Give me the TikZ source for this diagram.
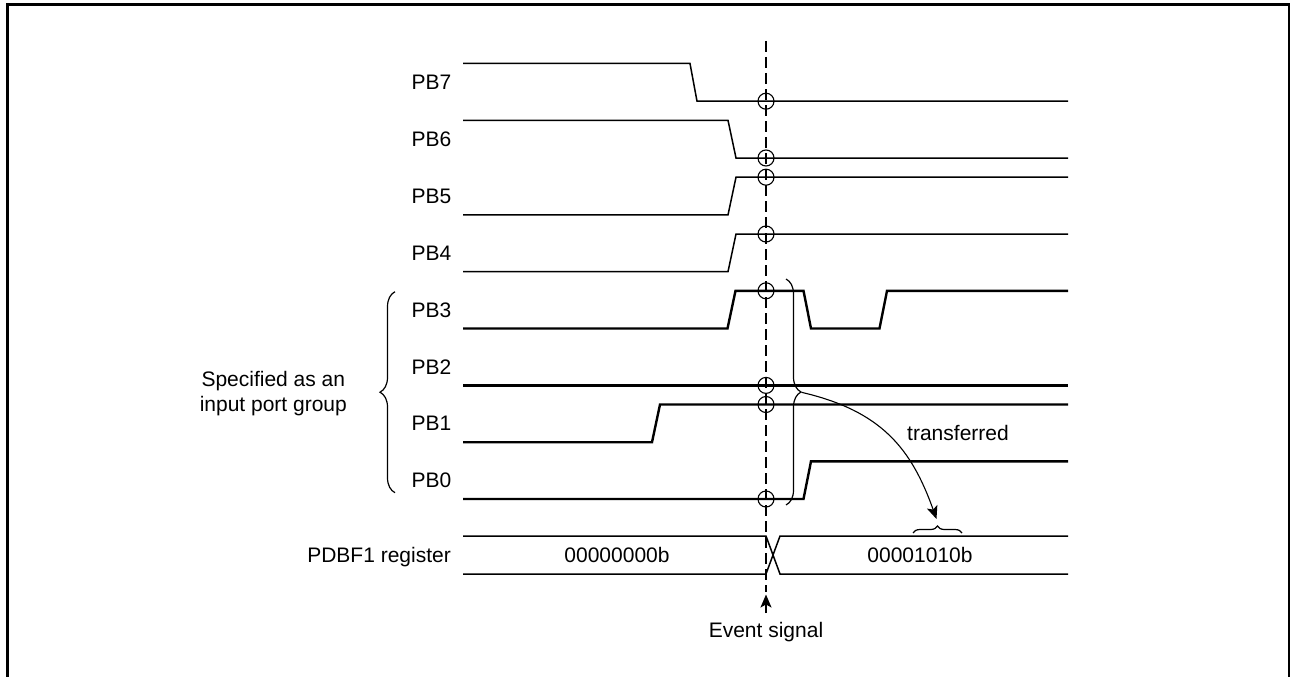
\documentclass[tikz,border=0pt]{standalone}
\usepackage{fontspec}
\setmainfont{Liberation Sans}
\usetikzlibrary{arrows.meta,decorations.pathreplacing}
\begin{document}
\begin{tikzpicture}[x=1pt,y=-1pt,
  lab/.style={inner sep=0pt,font=\fontsize{21}{25}\selectfont,text height=15pt,text depth=0pt},
  thinsig/.style={line width=1.5pt,line join=miter},
  thicksig/.style={line width=2.4pt,line join=miter},
  samp/.style={circle,draw,line width=1.1pt,minimum size=16pt,inner sep=0pt},
  regline/.style={line width=1.5pt},
  bracestyle/.style={line width=1.2pt,decorate,decoration={brace,amplitude=#1}},
  tip/.style={-{Stealth[length=13pt,width=11pt,inset=3pt]}},
]
\useasboundingbox (0,0) rectangle (1290,677);
% frame
\draw[line width=3pt] (7.3,679) -- (7.3,4.7) -- (1290,4.7);
\draw[line width=1.2pt] (1289,4.7) -- (1289,679);

% signals
\draw[thinsig] (463,63.5) -- (690,63.5) -- (697,101.2) -- (1068,101.2);
\draw[thinsig] (463,120.3) -- (728,120.3) -- (736,158) -- (1068,158);
\draw[thinsig] (463,214.9) -- (728,214.9) -- (736,177.2) -- (1068,177.2);
\draw[thinsig] (463,271.7) -- (728,271.7) -- (736,234) -- (1068,234);
\draw[thicksig] (463,328.5) -- (727.5,328.5) -- (735.5,290.8) -- (803.5,290.8) -- (811,328.5) -- (879.5,328.5) -- (887,290.8) -- (1068,290.8);
\draw[thicksig] (463,385.4) -- (1068,385.4);
\draw[thicksig] (463,442.2) -- (652,442.2) -- (660,404.5) -- (1068,404.5);
\draw[thicksig] (463,499) -- (803.5,499) -- (811,461.3) -- (1068,461.3);

% signal labels
\node[lab,anchor=east] (pb7) at (451.5,82.4) {PB7};
\node[lab,anchor=east] (pb6) at (451.5,139.2) {PB6};
\node[lab,anchor=east] (pb5) at (451.5,196) {PB5};
\node[lab,anchor=east] (pb4) at (451.5,252.9) {PB4};
\node[lab,anchor=east] (pb3) at (451.5,309.7) {PB3};
\node[lab,anchor=east] (pb2) at (451.5,366.5) {PB2};
\node[lab,anchor=east] (pb1) at (451.5,423.3) {PB1};
\node[lab,anchor=east] (pb0) at (451.5,480.2) {PB0};

% register
\draw[regline] (463,536) -- (766,536) -- (780,574) -- (1068,574);
\draw[regline] (463,574) -- (766,574) -- (780,536) -- (1068,536);
\node[lab,anchor=east] (reg) at (451,555) {PDBF1 register};
\node[lab] (v0) at (617,555) {00000000b};
\node[lab] (v1) at (920,554.5) {00001010b};

% event line
\draw[line width=2pt,dash pattern=on 11pt off 5pt] (766,41) -- (766,592);
\coordinate (evs) at (766,613);
\coordinate (evt) at (766,594.5);
\draw[line width=1.5pt,tip] (evs) -- (evt);
\node[lab] (ev) at (766,629.5) {Event signal};

% sampling circles
\node[samp] (c7) at (766,101.2) {};
\node[samp] (c6) at (766,158) {};
\node[samp] (c5) at (766,177.2) {};
\node[samp] (c4) at (766,234) {};
\node[samp] (c3) at (766,290.8) {};
\node[samp] (c2) at (766,385.4) {};
\node[samp] (c1) at (766,404.5) {};
\node[samp] (c0) at (766,499) {};

% group brace and text
\draw[bracestyle=15pt] (395,492.7) -- (395,291.7);
\node[inner sep=0pt,font=\fontsize{21}{25}\selectfont,align=center] (grp) at (273.3,393.8) {Specified as an\\input port group};

% transfer brace, arrow
\draw[bracestyle=15pt] (786,279) -- (786,505);
\coordinate (gtip) at (801.5,392.3);
\draw[bracestyle=7pt] (913,533) -- (962,533);
\coordinate (rtip) at (936.5,519);
\draw[line width=1.1pt,tip] (gtip) .. controls (882,411) and (911.5,449) .. (rtip);
\node[lab] (tr) at (958,432.5) {transferred};
\end{tikzpicture}
\end{document}
